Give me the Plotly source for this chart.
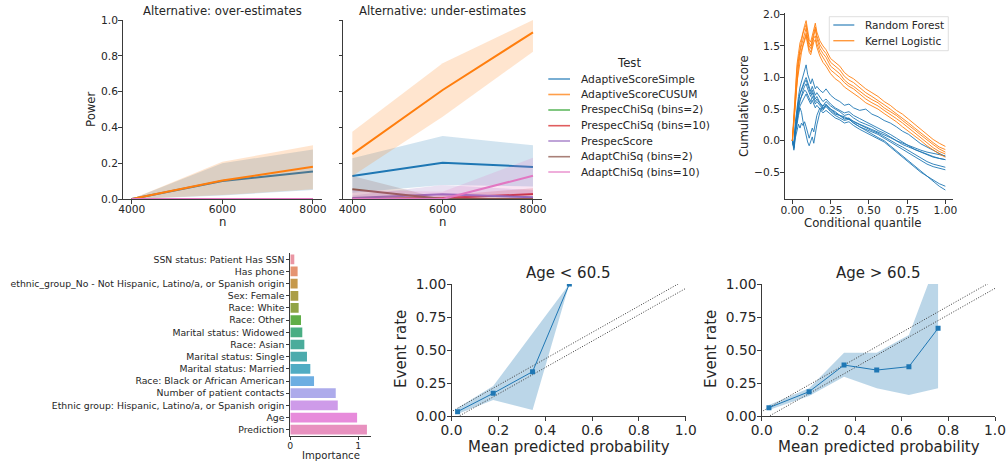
import math
import colorsys
import plotly.graph_objects as go

W, H = 1007, 461
FONT = "DejaVu Sans"
TXT = "#262626"
AXC = "#3a3a3a"

# ---------------- data: power curves ----------------
N_VALUES = [4000, 6000, 8000]
TESTS = ["AdaptiveScoreSimple", "AdaptiveScoreCUSUM", "PrespecChiSq (bins=2)",
         "PrespecChiSq (bins=10)", "PrespecScore", "AdaptChiSq (bins=2)", "AdaptChiSq (bins=10)"]
TEST_COLORS = ["#1f77b4", "#ff7f0e", "#2ca02c", "#d62728", "#9467bd", "#8c564b", "#e377c2"]

POWER_OVER = [[0.0, 0.100, 0.153], [0.0, 0.103, 0.180], [0.0, 0.0, 0.0], [0.0, 0.0, 0.0],
              [0.0, 0.0, 0.0], [0.0, 0.0, 0.0], [0.0, 0.0, 0.0]]
POWER_OVER_LO = [[0.0, 0.020, 0.050], [0.0, 0.022, 0.054], [0.0, 0.0, 0.0], [0.0, 0.0, 0.0],
                 [0.0, 0.0, 0.0], [0.0, 0.0, 0.0], [0.0, 0.0, 0.0]]
POWER_OVER_HI = [[0.0, 0.200, 0.277], [0.0, 0.208, 0.300], [0.0, 0.0, 0.0], [0.0, 0.0, 0.0],
                 [0.0, 0.0, 0.0], [0.0, 0.0, 0.0], [0.0, 0.0, 0.0]]

POWER_UNDER = [[0.128, 0.203, 0.179], [0.251, 0.609, 0.931], [0.0, 0.0, 0.0], [0.0, 0.005, 0.028],
               [0.005, 0.026, 0.010], [0.054, 0.0, 0.0], [0.0, 0.0, 0.130]]
POWER_UNDER_LO = [[0.035, 0.078, 0.070], [0.128, 0.460, 0.823], [0.0, 0.0, 0.0], [0.0, 0.0, 0.0],
                  [0.0, 0.0, 0.0], [0.0, 0.0, 0.0], [0.0, 0.0, 0.030]]
POWER_UNDER_HI = [[0.227, 0.352, 0.300], [0.376, 0.758, 1.000], [0.0, 0.0, 0.0], [0.0, 0.020, 0.060],
                  [0.020, 0.078, 0.050], [0.128, 0.0, 0.0], [0.050, 0.040, 0.230]]

# ---------------- data: cumulative score curves ----------------
Q_GRID = [0.00, 0.01, 0.02, 0.03, 0.04, 0.05, 0.06, 0.07, 0.08, 0.09, 0.10, 0.11, 0.12, 0.13,
          0.14, 0.15, 0.16, 0.18, 0.20, 0.22, 0.25, 0.28, 0.31, 0.34, 0.37, 0.40, 0.44, 0.48,
          0.52, 0.56, 0.60, 0.64, 0.68, 0.72, 0.76, 0.80, 0.84, 0.88, 0.92, 0.96, 1.00]

RF_CURVES = [
    [0.00, -0.05, 0.30, 0.55, 0.70, 0.85, 0.95, 1.05, 1.12, 1.20, 1.05, 0.95, 0.90, 0.98, 0.88, 0.82, 0.86, 0.80, 0.76, 0.82, 0.72, 0.66, 0.62, 0.56, 0.58, 0.52, 0.48, 0.50, 0.42, 0.38, 0.32, 0.28, 0.22, 0.15, 0.10, 0.02, -0.05, -0.10, -0.15, -0.20, -0.25],
    [0.00, -0.10, 0.20, 0.45, 0.62, 0.75, 0.82, 0.90, 0.95, 1.00, 0.92, 0.85, 0.78, 0.86, 0.80, 0.72, 0.76, 0.68, 0.62, 0.66, 0.58, 0.52, 0.48, 0.44, 0.46, 0.40, 0.35, 0.30, 0.26, 0.20, 0.16, 0.10, 0.04, -0.02, -0.08, -0.14, -0.18, -0.22, -0.26, -0.28, -0.30],
    [0.00, -0.12, 0.15, 0.35, 0.50, 0.62, 0.72, 0.80, 0.86, 0.90, 0.82, 0.75, 0.70, 0.76, 0.70, 0.62, 0.66, 0.58, 0.52, 0.56, 0.48, 0.42, 0.40, 0.34, 0.36, 0.30, 0.25, 0.20, 0.16, 0.12, 0.06, 0.00, -0.05, -0.10, -0.16, -0.22, -0.28, -0.33, -0.37, -0.40, -0.42],
    [0.00, -0.08, 0.18, 0.40, 0.55, 0.65, 0.70, 0.76, 0.80, 0.78, 0.72, 0.68, 0.62, 0.70, 0.64, 0.58, 0.62, 0.56, 0.50, 0.54, 0.46, 0.40, 0.36, 0.32, 0.34, 0.28, 0.22, 0.18, 0.14, 0.10, 0.04, -0.02, -0.08, -0.14, -0.20, -0.26, -0.32, -0.37, -0.41, -0.44, -0.46],
    [0.00, -0.05, 0.25, 0.48, 0.62, 0.74, 0.80, 0.88, 0.92, 0.96, 0.88, 0.80, 0.74, 0.80, 0.74, 0.66, 0.70, 0.60, 0.55, 0.58, 0.50, 0.44, 0.40, 0.36, 0.34, 0.28, 0.22, 0.16, 0.10, 0.05, 0.00, -0.08, -0.16, -0.24, -0.32, -0.40, -0.48, -0.56, -0.64, -0.72, -0.78],
    [0.00, -0.10, 0.15, 0.32, 0.45, 0.55, 0.60, 0.66, 0.70, 0.74, 0.68, 0.62, 0.58, 0.64, 0.58, 0.52, 0.56, 0.50, 0.44, 0.48, 0.42, 0.36, 0.33, 0.28, 0.30, 0.24, 0.18, 0.13, 0.08, 0.04, -0.02, -0.10, -0.18, -0.26, -0.34, -0.42, -0.50, -0.56, -0.62, -0.68, -0.72],
    [0.00, -0.12, 0.10, 0.28, 0.40, 0.52, 0.45, 0.30, 0.18, 0.05, -0.02, -0.08, 0.00, 0.06, -0.04, 0.10, 0.25, 0.45, 0.55, 0.62, 0.55, 0.50, 0.46, 0.40, 0.42, 0.36, 0.30, 0.26, 0.22, 0.16, 0.12, 0.06, 0.00, -0.06, -0.10, -0.14, -0.18, -0.22, -0.25, -0.28, -0.30],
    [0.00, -0.15, 0.05, 0.18, 0.26, 0.20, 0.28, 0.24, 0.30, 0.22, 0.10, 0.04, 0.12, 0.20, 0.14, 0.28, 0.40, 0.52, 0.48, 0.56, 0.50, 0.46, 0.40, 0.38, 0.34, 0.30, 0.26, 0.22, 0.18, 0.14, 0.10, 0.05, 0.00, -0.04, -0.08, -0.12, -0.15, -0.18, -0.20, -0.22, -0.24],
]
KL_CURVES = [
    [0.00, 0.45, 0.85, 1.20, 1.38, 1.55, 1.62, 1.75, 1.82, 1.90, 1.74, 1.60, 1.56, 1.68, 1.80, 1.86, 1.72, 1.58, 1.50, 1.44, 1.30, 1.24, 1.18, 1.08, 1.02, 0.98, 0.90, 0.82, 0.76, 0.70, 0.62, 0.56, 0.48, 0.42, 0.34, 0.26, 0.18, 0.10, 0.02, -0.04, -0.09],
    [0.00, 0.38, 0.80, 1.12, 1.30, 1.48, 1.58, 1.70, 1.78, 1.84, 1.68, 1.55, 1.50, 1.62, 1.74, 1.80, 1.66, 1.52, 1.44, 1.38, 1.24, 1.18, 1.12, 1.02, 0.96, 0.92, 0.84, 0.76, 0.70, 0.64, 0.57, 0.50, 0.43, 0.36, 0.28, 0.20, 0.12, 0.04, -0.03, -0.10, -0.14],
    [0.00, 0.30, 0.68, 1.00, 1.18, 1.35, 1.45, 1.55, 1.62, 1.70, 1.56, 1.45, 1.40, 1.52, 1.62, 1.66, 1.54, 1.40, 1.32, 1.26, 1.12, 1.06, 1.00, 0.92, 0.86, 0.82, 0.74, 0.66, 0.60, 0.55, 0.48, 0.42, 0.35, 0.28, 0.20, 0.12, 0.04, -0.04, -0.11, -0.17, -0.21],
    [0.00, 0.25, 0.60, 0.92, 1.10, 1.28, 1.40, 1.50, 1.58, 1.66, 1.52, 1.40, 1.36, 1.46, 1.56, 1.60, 1.48, 1.34, 1.24, 1.18, 1.06, 0.98, 0.93, 0.85, 0.80, 0.76, 0.68, 0.60, 0.55, 0.50, 0.43, 0.37, 0.30, 0.22, 0.15, 0.07, 0.00, -0.08, -0.15, -0.21, -0.26],
    [0.00, 0.35, 0.72, 1.05, 1.25, 1.42, 1.52, 1.62, 1.70, 1.78, 1.62, 1.50, 1.46, 1.58, 1.70, 1.76, 1.62, 1.46, 1.38, 1.32, 1.18, 1.12, 1.06, 0.96, 0.90, 0.86, 0.78, 0.71, 0.65, 0.60, 0.52, 0.46, 0.40, 0.32, 0.25, 0.17, 0.09, 0.01, -0.06, -0.13, -0.18],
]
MODEL_NAMES = ["Random Forest", "Kernel Logistic"]
MODEL_COLORS = ["#1f77b4", "#ff7f0e"]

# ---------------- data: feature importance ----------------
FEATURES = ["SSN status: Patient Has SSN", "Has phone",
            "ethnic_group_No - Not Hispanic, Latino/a, or Spanish origin", "Sex: Female",
            "Race: White", "Race: Other", "Marital status: Widowed", "Race: Asian",
            "Marital status: Single", "Marital status: Married", "Race: Black or African American",
            "Number of patient contacts", "Ethnic group: Hispanic, Latino/a, or Spanish origin",
            "Age", "Prediction"]
IMPORTANCE = [0.059, 0.108, 0.108, 0.118, 0.123, 0.158, 0.177, 0.207, 0.246, 0.295, 0.350,
              0.670, 0.700, 0.985, 1.130]

# ---------------- data: calibration ----------------
CAL_YOUNG_X = [0.026, 0.178, 0.346, 0.503]
CAL_YOUNG_Y = [0.033, 0.172, 0.336, 1.000]
CAL_YOUNG_LO = [0.015, 0.121, 0.045, 1.000]
CAL_YOUNG_HI = [0.060, 0.227, 0.626, 1.000]

CAL_OLD_X = [0.031, 0.203, 0.353, 0.493, 0.631, 0.756]
CAL_OLD_Y = [0.063, 0.184, 0.386, 0.348, 0.374, 0.664]
CAL_OLD_LO = [0.045, 0.152, 0.298, 0.210, 0.159, 0.210]
CAL_OLD_HI = [0.083, 0.210, 0.480, 0.480, 0.614, 1.200]

DIAG_X = [-0.1, 1.1]
DIAG_OFFSETS = [0.033, -0.033]


# ---------------- helpers ----------------
def rgba(hexcol, a):
    h = hexcol.lstrip("#")
    return "rgba(%d,%d,%d,%.3f)" % (int(h[0:2], 16), int(h[2:4], 16), int(h[4:6], 16), a)


_M = [[3.2406, -1.5372, -0.4986], [-0.9689, 1.8758, 0.0415], [0.0557, -0.2040, 1.0570]]


def _max_chroma(L, Hh):
    hrad = math.radians(Hh)
    sinH, cosH = math.sin(hrad), math.cos(hrad)
    sub1 = (L + 16) ** 3 / 1560896.0
    sub2 = sub1 if sub1 > 0.008856 else L / 903.3
    result = float("inf")
    for m1, m2, m3 in _M:
        top = (0.99915 * m1 + 1.05122 * m2 + 1.14460 * m3) * sub2
        rbottom = 0.86330 * m3 - 0.17266 * m2
        lbottom = 0.12949 * m3 - 0.38848 * m1
        bottom = (rbottom * sinH + lbottom * cosH) * sub2
        for t in (0.0, 1.0):
            C = L * (top - 1.05122 * t) / (bottom + 0.17266 * sinH * t)
            if 0.0 < C < result:
                result = C
    return result


def husl_to_rgb(h, s, l):
    C = _max_chroma(l, h) / 100.0 * s
    hrad = math.radians(h)
    U, V = math.cos(hrad) * C, math.sin(hrad) * C
    t = (l + 16) / 116.0
    Y = t ** 3 if t ** 3 > 0.008856 else (116 * t - 16) / 903.3
    varU = U / (13 * l) + 0.19784
    varV = V / (13 * l) + 0.46834
    X = -(9 * Y * varU) / ((varU - 4) * varV - varU * varV)
    Z = (9 * Y - 15 * varV * Y - varV * X) / (3 * varV)
    out = []
    for m1, m2, m3 in _M:
        c = m1 * X + m2 * Y + m3 * Z
        c = 12.92 * c if c <= 0.0031308 else 1.055 * c ** (1 / 2.4) - 0.055
        out.append(min(1.0, max(0.0, c)))
    return out


def seaborn_bar_colors(n):
    cols = []
    for i in range(n):
        hue = ((i / n) + 0.01) % 1 * 359
        r, g, b = husl_to_rgb(hue, 0.9 * 99, 0.7 * 99)
        hh, ll, ss = colorsys.rgb_to_hls(r, g, b)
        r, g, b = colorsys.hls_to_rgb(hh, ll, ss * 0.75)
        cols.append("rgb(%d,%d,%d)" % (round(r * 255), round(g * 255), round(b * 255)))
    return cols


def axis(domain, rng, anchor, size, tickvals=None, fmt=None, labels=True, standoff=-2, **kw):
    d = dict(domain=domain, range=rng, anchor=anchor, showline=True, linecolor=AXC,
             linewidth=1, ticks="outside", ticklen=3.5, tickwidth=1, tickcolor=AXC,
             showgrid=False, zeroline=False, showticklabels=labels, automargin=False,
             ticklabelstandoff=standoff,
             tickfont=dict(family=FONT, size=size, color=TXT))
    if tickvals is not None:
        d["tickvals"] = tickvals
    if fmt is not None:
        d["tickformat"] = fmt
    d.update(kw)
    return d


def text(x, y, s, size, angle=0, xanchor="center"):
    return dict(x=x / W, y=1 - y / H, xref="paper", yref="paper", text=s, showarrow=False,
                font=dict(family=FONT, size=size, color=TXT), textangle=angle,
                xanchor=xanchor, yanchor="middle")


fig = go.Figure()

# ---- top row power panels ----
panels = [(POWER_OVER, POWER_OVER_LO, POWER_OVER_HI, "x", "y"),
          (POWER_UNDER, POWER_UNDER_LO, POWER_UNDER_HI, "x2", "y2")]
for means, los, his, xa, ya in panels:
    for i, name in enumerate(TESTS):
        col = TEST_COLORS[i]
        fig.add_trace(go.Scatter(x=N_VALUES, y=means[i], mode="lines", name=name,
                                 line=dict(color=col, width=2), xaxis=xa, yaxis=ya,
                                 showlegend=False, hoverinfo="skip"))
        fig.add_trace(go.Scatter(x=N_VALUES + N_VALUES[::-1], y=his[i] + los[i][::-1],
                                 fill="toself", fillcolor=rgba(col, 0.2), mode="lines",
                                 line=dict(width=0, color=col), xaxis=xa, yaxis=ya,
                                 showlegend=False, hoverinfo="skip"))

# ---- cumulative score ----
for curves, col in [(RF_CURVES, MODEL_COLORS[0]), (KL_CURVES, MODEL_COLORS[1])]:
    for c in curves:
        fig.add_trace(go.Scatter(x=Q_GRID, y=c, mode="lines", line=dict(color=col, width=0.9),
                                 xaxis="x3", yaxis="y3", showlegend=False, hoverinfo="skip"))

# ---- feature importance ----
fig.add_trace(go.Bar(x=IMPORTANCE, y=FEATURES, orientation="h", width=0.8,
                     marker=dict(color=seaborn_bar_colors(len(FEATURES)), line=dict(width=0)),
                     xaxis="x4", yaxis="y4", showlegend=False, hoverinfo="skip"))

# ---- calibration ----
for xs, ys, lo, hi, xa, ya in [(CAL_YOUNG_X, CAL_YOUNG_Y, CAL_YOUNG_LO, CAL_YOUNG_HI, "x5", "y5"),
                               (CAL_OLD_X, CAL_OLD_Y, CAL_OLD_LO, CAL_OLD_HI, "x6", "y6")]:
    fig.add_trace(go.Scatter(x=xs + xs[::-1], y=hi + lo[::-1], fill="toself",
                             fillcolor=rgba("#1f77b4", 0.3), mode="lines", line=dict(width=0),
                             xaxis=xa, yaxis=ya, showlegend=False, hoverinfo="skip"))
    for off in DIAG_OFFSETS:
        fig.add_trace(go.Scatter(x=DIAG_X, y=[v + off for v in DIAG_X], mode="lines",
                                 line=dict(color="#3a3a3a", width=1, dash="1px,1.6px"),
                                 xaxis=xa, yaxis=ya, showlegend=False, hoverinfo="skip"))
    fig.add_trace(go.Scatter(x=xs, y=ys, mode="lines+markers",
                             line=dict(color="#1f77b4", width=1),
                             marker=dict(symbol="square", size=5, color="#1f77b4"),
                             xaxis=xa, yaxis=ya, showlegend=False, hoverinfo="skip"))

# ---------------- layout ----------------
TOP_Y = [1 - 199 / H, 1 - 20 / H]
CAL_Y = [1 - 416 / H, 1 - 284 / H]
T_TICK, T_LAB = 10.7, 11.7
B_TICK, B_LAB = 9.3, 10.1
C_TICK, C_LAB = 13.75, 15

layout = dict(
    width=W, height=H, margin=dict(l=0, r=0, t=0, b=0),
    paper_bgcolor="white", plot_bgcolor="white", showlegend=False,
    xaxis=axis([122.7 / W, 322 / W], [3800, 8200], "y", T_TICK, N_VALUES, "d", standoff=-3),
    yaxis=axis(TOP_Y, [0, 1], "x", T_TICK, [0, 0.2, 0.4, 0.6, 0.8, 1.0], ".1f"),
    xaxis2=axis([343.3 / W, 542 / W], [3800, 8200], "y2", T_TICK, N_VALUES, "d", standoff=-3),
    yaxis2=axis(TOP_Y, [0, 1], "x2", T_TICK, [0, 0.2, 0.4, 0.6, 0.8, 1.0], ".1f", labels=False),
    xaxis3=axis([784.7 / W, 953 / W], [-0.05, 1.05], "y3", T_TICK, [0, 0.25, 0.5, 0.75, 1.0], ".2f",
                standoff=-3),
    yaxis3=axis([1 - 199.3 / H, 1 - 13.3 / H], [-0.927, 2.016], "x3", T_TICK,
                [-0.5, 0, 0.5, 1.0, 1.5, 2.0], ".1f"),
    xaxis4=axis([290.3 / W, 371 / W], [0, 1.19], "y4", B_TICK, [0, 1], "d"),
    yaxis4=axis([1 - 435.8 / H, 1 - 253.2 / H], [14.5, -0.5], "x4", B_TICK, standoff=0,
                categoryorder="array", categoryarray=FEATURES, type="category", ticklen=3),
    xaxis5=axis([451.5 / W, 685.8 / W], [0, 1], "y5", C_TICK, [0, 0.2, 0.4, 0.6, 0.8, 1.0], ".1f"),
    yaxis5=axis(CAL_Y, [0, 1], "x5", C_TICK, [0, 0.25, 0.5, 0.75, 1.0], ".2f", standoff=-2),
    xaxis6=axis([761.7 / W, 995 / W], [0, 1], "y6", C_TICK, [0, 0.2, 0.4, 0.6, 0.8, 1.0], ".1f"),
    yaxis6=axis(CAL_Y, [0, 1], "x6", C_TICK, [0, 0.25, 0.5, 0.75, 1.0], ".2f", standoff=-2),
)

annotations = [
    text(222.3, 10.5, "Alternative: over-estimates", T_LAB),
    text(442.6, 10.5, "Alternative: under-estimates", T_LAB),
    text(90.5, 109.5, "Power", T_LAB, angle=-90),
    text(222.3, 221.5, "n", T_LAB),
    text(442.6, 221.5, "n", T_LAB),
    text(743.3, 105.8, "Cumulative score", T_LAB, angle=-90),
    text(862.8, 223, "Conditional quantile", T_LAB),
    text(330.5, 455, "Importance", B_LAB),
    text(568.7, 273, "Age &lt; 60.5", C_LAB),
    text(878.5, 273, "Age &gt; 60.5", C_LAB),
    text(400.7, 349.2, "Event rate", C_LAB, angle=-90),
    text(710.7, 349.2, "Event rate", C_LAB, angle=-90),
    text(569.2, 446.7, "Mean predicted probability", C_LAB),
    text(878.7, 446.7, "Mean predicted probability", C_LAB),
    text(629, 63, "Test", T_LAB),
]

shapes = []
LEG_ROWS = [79, 94.5, 110, 125.7, 141, 156.7, 172]
for i, name in enumerate(TESTS):
    yy = 1 - LEG_ROWS[i] / H
    shapes.append(dict(type="line", xref="paper", yref="paper", x0=548.3 / W, x1=570 / W,
                       y0=yy, y1=yy, line=dict(color=rgba(TEST_COLORS[i], 0.75), width=1.6)))
    annotations.append(text(579, LEG_ROWS[i], name, T_TICK, xanchor="left"))

shapes.append(dict(type="rect", xref="paper", yref="paper", x0=829.3 / W, x1=948.3 / W,
                   y0=1 - 50.7 / H, y1=1 - 16.7 / H, line=dict(color="#d6d6d6", width=0.8),
                   fillcolor="rgba(255,255,255,0.8)"))
for i, name in enumerate(MODEL_NAMES):
    yrow = [25, 40.7][i]
    shapes.append(dict(type="line", xref="paper", yref="paper", x0=833.3 / W, x1=854.3 / W,
                       y0=1 - yrow / H, y1=1 - yrow / H,
                       line=dict(color=rgba(MODEL_COLORS[i], 0.8), width=1.4)))
    annotations.append(text(863.3, yrow, name, 10.5, xanchor="left"))

layout["annotations"] = annotations
layout["shapes"] = shapes
fig.update_layout(**layout)

fig.write_html("out.html")
